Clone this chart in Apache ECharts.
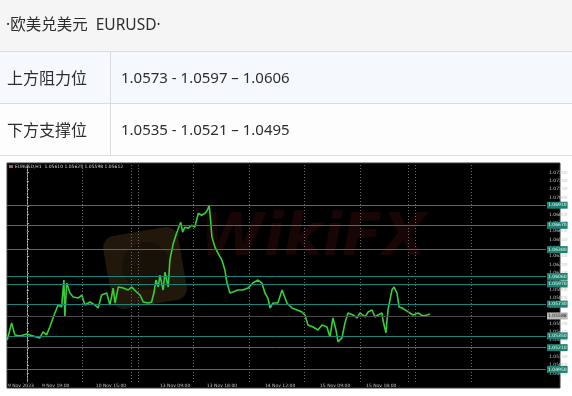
<!DOCTYPE html>
<html>
<head>
<meta charset="utf-8">
<script src="https://cdn.jsdelivr.net/npm/echarts@6/dist/echarts.min.js"></script>
<style>
html,body{margin:0;padding:0;background:#fff;}
#c{width:572px;height:396px;}
</style>
</head>
<body>
<div id="c"></div>
<script>
// ---- table texts ----
const headerText = '·欧美兑美元  EURUSD·';
const rowLabels = ['上方阻力位', '下方支撑位'];
const rowValues = ['1.0573 - 1.0597 – 1.0606', '1.0535 - 1.0521 – 1.0495'];

// ---- price levels (horizontal lines) ----
const resistance = [1.0573, 1.0597, 1.0606];
const support = [1.0535, 1.0521, 1.0495];
const olderLevels = [1.0638, 1.0667, 1.0691];
const bidPrice = 1.05588;

// ---- EURUSD H1 close, hours from first day separator ----
const hours = [-8.5,-6.6,-5.2,-3.0,-0.1,2.7,5.6,7.0,8.5,9.9,12.1,13.5,15.0,16.0,16.4,17.2,18.6,20.0,22.2,23.7,
  25.1,27.2,29.4,30.8,32.3,34.5,35.9,37.3,38.1,39.5,41.6,43.8,45.3,47.4,48.9,50.3,52.5,53.9,54.9,55.8,
  56.8,57.5,58.9,59.7,60.4,61.1,61.8,63.3,64.7,66.5,67.3,68.3,69.8,71.2,72.6,74.1,75.5,77.0,78.0,78.8,
  79.4,80.0,81.3,82.6,84.3,85.6,86.5,87.8,89.1,91.2,93.4,95.6,97.7,99.9,101.6,102.9,104.2,105.1,106.4,108.5,
  110.3,110.7,112.4,114.6,116.8,118.9,120.2,121.5,123.7,125.8,127.6,129.7,131.0,132.3,133.6,134.5,136.2,137.5,138.8,141.0,
  142.7,144.0,146.2,147.5,149.2,150.5,151.8,153.5,153.9,155.2,156.1,157.8,158.7,160.0,160.9,162.2,163.5,164.8,167.0,169.1,
  171.2,173.0,174.3];
const prices = [1.05302,1.05505,1.05362,1.05350,1.05374,1.05350,1.05326,1.05398,1.05362,1.05457,1.05624,1.05719,1.05695,1.06017,1.05576,1.05981,1.05862,1.05814,1.05802,1.05838,
  1.05719,1.05755,1.05719,1.05683,1.05838,1.05862,1.05719,1.05921,1.05743,1.05933,1.05921,1.05898,1.05933,1.05874,1.05838,1.05755,1.05743,1.05755,1.05862,1.06017,
  1.05933,1.06076,1.05898,1.06112,1.06017,1.05933,1.06255,1.06457,1.06576,1.06707,1.06588,1.06648,1.06636,1.06671,1.06648,1.06814,1.06790,1.06814,1.06850,1.06910,
  1.06731,1.06529,1.06410,1.06338,1.06255,1.06136,1.05981,1.05862,1.05874,1.05898,1.05898,1.05921,1.05981,1.06017,1.05981,1.05862,1.05802,1.05683,1.05743,1.05743,
  1.05898,1.05921,1.05743,1.05683,1.05660,1.05636,1.05600,1.05481,1.05457,1.05421,1.05481,1.05457,1.05338,1.05564,1.05421,1.05279,1.05326,1.05505,1.05624,1.05600,
  1.05564,1.05624,1.05576,1.05636,1.05660,1.05576,1.05600,1.05624,1.05540,1.05386,1.05660,1.05898,1.05933,1.05862,1.05695,1.05683,1.05660,1.05636,1.05600,1.05624,
  1.05588,1.05600,1.05612];

// ---- vertical separators and time labels ----
const dayLines = [0, 24, 45, 48, 72, 96, 120, 144, 165, 168, 192];
const timeLabelHours = [-8.2, 6.5, 29.8, 57.5, 77.8, 102.9, 126.7, 146.6];
const timeLabels = ['9 Nov 2023', '9 Nov 19:00', '10 Nov 15:00', '13 Nov 09:00', '13 Nov 18:00', '14 Nov 12:00', '15 Nov 09:00', '15 Nov 18:00'];
const chartTitle = 'EURUSD,H1  1.05610 1.05625 1.05598 1.05612';

const CJK = "'Noto Sans', 'Noto Sans CJK SC', sans-serif";
const chart = echarts.init(document.getElementById('c'), null, {renderer: 'canvas'});

const levelLines = olderLevels.concat(resistance, support).map(v => ({
  yAxis: v,
  lineStyle: {color: '#17857a', width: 1, type: 'solid', opacity: 1},
  label: {show: true, position: 'end', distance: 1, formatter: p => Number(p.value).toFixed(5),
    color: '#e8f8f4', backgroundColor: '#1f8070', fontSize: 4.5, padding: [1, 1], fontFamily: 'DejaVu Sans'}
}));
const bidLine = [{
  yAxis: bidPrice,
  lineStyle: {color: '#4a4a4a', width: 1, type: 'solid'},
  label: {show: true, position: 'end', distance: 1, formatter: p => Number(p.value).toFixed(5),
    color: '#222', backgroundColor: '#b8b8b8', fontSize: 4.5, padding: [1, 1], fontFamily: 'DejaVu Sans'}
}];

const priceData = hours.map((h, i) => [h, prices[i]]);

const graphics = [
  // table
  {type: 'rect', z: 10, shape: {x: 0, y: 0, width: 572, height: 51}, style: {fill: '#f5f5f5'}},
  {type: 'rect', z: 10, shape: {x: 0, y: 52, width: 572, height: 51}, style: {fill: '#f5f9fd'}},
  {type: 'rect', z: 10, shape: {x: 0, y: 104, width: 572, height: 51}, style: {fill: '#fdfdfd'}},
  {type: 'line', z: 11, shape: {x1: 0, y1: 51.5, x2: 572, y2: 51.5}, style: {stroke: '#dcdcdc', lineWidth: 1}},
  {type: 'line', z: 11, shape: {x1: 0, y1: 103.5, x2: 572, y2: 103.5}, style: {stroke: '#dcdcdc', lineWidth: 1}},
  {type: 'line', z: 11, shape: {x1: 0, y1: 155.5, x2: 572, y2: 155.5}, style: {stroke: '#dcdcdc', lineWidth: 1}},
  {type: 'line', z: 11, shape: {x1: 110.5, y1: 52, x2: 110.5, y2: 155}, style: {stroke: '#dcdcdc', lineWidth: 1}},
  {type: 'text', z: 12, style: {x: 6, y: 26, text: headerText, fill: '#2e2e2e', fontSize: 15.5, fontFamily: CJK, verticalAlign: 'middle', align: 'left'}},
  {type: 'text', z: 12, style: {x: 7, y: 79, text: rowLabels[0], fill: '#2e2e2e', fontSize: 16, fontFamily: CJK, verticalAlign: 'middle', align: 'left'}},
  {type: 'text', z: 12, style: {x: 7, y: 131, text: rowLabels[1], fill: '#2e2e2e', fontSize: 16, fontFamily: CJK, verticalAlign: 'middle', align: 'left'}},
  {type: 'text', z: 12, style: {x: 121, y: 79, text: rowValues[0], fill: '#2e2e2e', fontSize: 15, fontFamily: CJK, verticalAlign: 'middle', align: 'left'}},
  {type: 'text', z: 12, style: {x: 121, y: 131, text: rowValues[1], fill: '#2e2e2e', fontSize: 15, fontFamily: CJK, verticalAlign: 'middle', align: 'left'}},
  // chart background
  {type: 'rect', z: -10, shape: {x: 7, y: 163, width: 553, height: 225}, style: {fill: '#000', stroke: '#3a3a3a', lineWidth: 1}},
  // watermark
  {type: 'rect', z: -9, x: 145, y: 268, rotation: 0.17, shape: {x: -38, y: -37, width: 76, height: 74, r: 12}, style: {fill: '#21180b'}},
  {type: 'circle', z: -9, x: 146, y: 266, shape: {cx: 0, cy: 0, r: 24}, style: {fill: '#181108'}},
  {type: 'text', z: -9, style: {x: 200, y: 240, text: 'WikiFX', fill: '#170605', fontSize: 58, fontWeight: 'bold', fontStyle: 'italic', fontFamily: 'DejaVu Sans', verticalAlign: 'middle', align: 'left'}},
  // chart title
  {type: 'rect', z: 5, shape: {x: 9, y: 165, width: 4, height: 3}, style: {fill: '#c05050'}},
  {type: 'text', z: 5, style: {x: 15, y: 166.5, text: chartTitle, fill: '#d8d8d8', fontSize: 4.5, fontFamily: 'DejaVu Sans', verticalAlign: 'middle', align: 'left'}}
];

chart.setOption({
  backgroundColor: '#ffffff',
  animation: false,
  graphic: graphics,
  grid: {left: 7, right: 26, top: 165, bottom: 14, containLabel: false},
  xAxis: {
    type: 'value', min: -8.6, max: 224.4,
    axisLine: {show: false}, axisTick: {show: false}, splitLine: {show: false},
    axisLabel: {
      customValues: timeLabelHours,
      formatter: v => { const i = timeLabelHours.indexOf(v); return i >= 0 ? timeLabels[i] : ''; },
      fontSize: 4.5, color: '#c8c8c8', margin: 1.5, align: 'left', fontFamily: 'DejaVu Sans'
    }
  },
  yAxis: {
    type: 'value', position: 'right', min: 1.0480, max: 1.0739, interval: 0.001,
    axisLine: {show: true, lineStyle: {color: '#b0b0b0', width: 1}},
    axisTick: {show: true, length: 2, lineStyle: {color: '#b0b0b0'}},
    splitLine: {show: false},
    axisLabel: {fontSize: 4.5, color: '#c8c8c8', margin: 3, formatter: v => v.toFixed(5),
      showMinLabel: false, showMaxLabel: false, fontFamily: 'DejaVu Sans'}
  },
  series: [
    {
      type: 'line', data: priceData, showSymbol: false, symbol: 'none', z: 1,
      lineStyle: {opacity: 0},
      silent: true,
      markLine: {
        silent: true, symbol: ['none', 'none'], precision: 5,
        lineStyle: {color: '#6a6a6a', type: [1, 2], width: 1},
        label: {show: false},
        data: dayLines.map(v => ({xAxis: v})).concat(bidLine)
      }
    },
    {
      type: 'line', data: priceData, showSymbol: false, symbol: 'none', z: 3,
      lineStyle: {color: '#36d036', width: 1.6},
      silent: true,
      markLine: {
        silent: true, symbol: ['none', 'none'], precision: 5,
        lineStyle: {color: '#17857a', width: 1, type: 'solid'},
        data: levelLines
      }
    }
  ]
});
</script>
</body>
</html>
